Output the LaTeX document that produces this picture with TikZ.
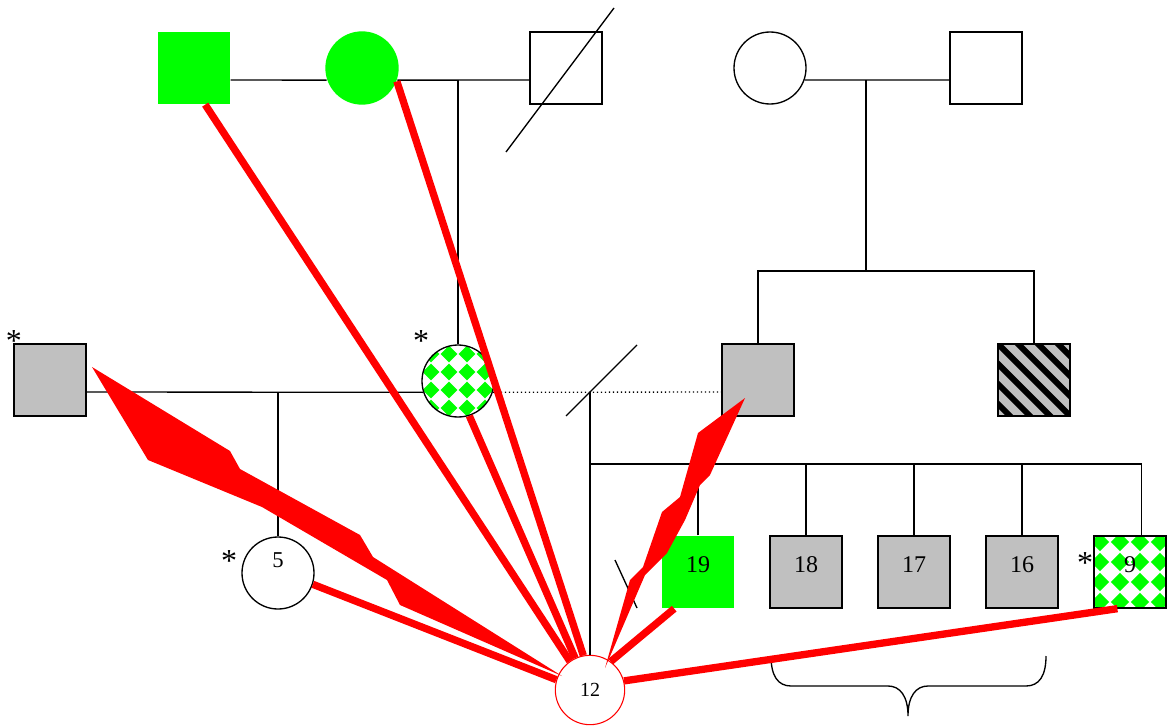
\documentclass[tikz,border=0pt]{standalone}
\usepackage{fontspec}
\setmainfont{Liberation Serif}
\usetikzlibrary{calc}
\definecolor{pedgrey}{HTML}{C0C0C0}

\begin{document}
\begin{tikzpicture}[x=0.75pt,y=-0.75pt,
    male/.style={rectangle,minimum size=54pt,inner sep=0pt,line width=1pt},
    female/.style={circle,minimum size=54pt,inner sep=0pt,line width=1pt},
    num/.style={font=\fontsize{18}{20}\selectfont,text height=6pt,text depth=6pt},
    asterisk/.style={font=\fontsize{24}{26}\selectfont,inner sep=0pt,anchor=base},
    kin/.style={line width=1pt},
    link/.style={red,line width=5.5pt},
    diamonds/.style={path picture={
      \foreach \i in {-2,...,1}{
        \foreach \j in {-2,...,1}{
          \fill[green] ($(path picture bounding box.center)+(\i*#1+#1/2,\j*#1+#1/2)$)
            +(-0.46*#1,0) -- +(0,-0.46*#1) -- +(0.46*#1,0) -- +(0,0.46*#1) -- cycle;
        }
      }
    }},
    hatched/.style={path picture={
      \foreach \k in {-5,...,5}
        \draw[line width=4.5pt] ($(path picture bounding box.center)+(\k*20-60,-60)$) -- ++(120,120);
    }}
  ]
  \useasboundingbox (0,0) rectangle (1171,728);

  % first generation
  \node[male,fill=green] (greenM) at (194,68) {};
  \node[female,fill=green,minimum size=55pt] (greenF) at (362,68) {};
  \node[male,draw] (deadM) at (566,68) {};
  \node[female,draw] (topF) at (770,68) {};
  \node[male,draw] (topM) at (986,68) {};

  % second generation
  \node[male,draw,fill=pedgrey] (leftM) at (50,380) {};
  \node[female,draw,diamonds=18] (checkF) at (458,381) {};
  \node[male,draw,fill=pedgrey] (greyM) at (758,380) {};
  \node[male,draw,fill=pedgrey,hatched] (hatchM) at (1034,380) {};

  % third generation
  \node[female,draw,font=\fontsize{17}{19}\selectfont,text height=1pt,text depth=10pt] (n5) at (278,573) {5};
  \node[male,fill=green,num] (n19) at (698,572) {19};
  \foreach \n/\x in {18/806,17/914,16/1022}
    \node[male,draw,fill=pedgrey,num] (n\n) at (\x,572) {\n};
  \node[male,draw,diamonds=20,num] (n9) at (1130,572) {9};
  \node[female,draw=red,line width=0.8pt,minimum size=52pt,font=\fontsize{15}{17}\selectfont] (n12) at (590,690) {12};

  % asterisks
  \node[asterisk] (astL) at (14,351) {*};
  \node[asterisk] (astC) at (421,351) {*};
  \node[asterisk] (ast5) at (229,571) {*};
  \node[asterisk] (ast9) at (1085,573) {*};

  % marriage and sibship lines
  \coordinate (jL) at (458,80);
  \coordinate (jR) at (866,80);
  \coordinate (sibR) at (866,271);
  \coordinate (jM) at (278,392);
  \coordinate (jC) at (590,392);
  \coordinate (sibB) at (590,464);

  \draw[kin] (greenM.east |- jL) -- (greenF.199);
  \draw[kin] (greenF.-19) -- (deadM.west |- jL);
  \draw[kin] (jL) -- (checkF.north);
  \draw[kin] ($(deadM)+(-60,84)$) -- ($(deadM)+(48,-60)$);
  \draw[kin] (topF.-19) -- (topM.west |- jR);
  \draw[kin] (jR) -- (sibR);
  \draw[kin] (greyM.north) -- (greyM.north |- sibR) -- (hatchM.north |- sibR) -- (hatchM.north);
  \draw[kin] (leftM.east |- jM) -- (checkF.198);
  \draw[kin] (jM) -- (n5.north);
  \draw[kin,dotted] (checkF.-18) -- (greyM.west |- jM);
  \draw[kin] ($(jC)+(-24,24)$) -- ($(jC)+(47,-47)$);
  \draw[kin] (jC) -- (n12.north);
  \draw[kin] (sibB) -| ($(n9.north east)+(-25,0)$);
  \foreach \n in {n19,n18,n17,n16}
    \draw[kin] (\n.north) -- (\n.north |- sibB);
  \draw[kin] ($(n19)+(-83,-12)$) -- ($(n19)+(-61,36)$);

  % brace under the sibs
  \draw[kin] (771,656) .. controls (771,676) and (778,686) .. (791,686) -- (888,686)
    .. controls (900,686) and (908,696) .. (908,716)
    .. controls (908,696) and (916,686) .. (928,686) -- (1026,686)
    .. controls (1039,686) and (1046,676) .. (1046,656);

  % red links to 12
  \fill[red] (92,367) -- (230,451) -- (240,469) -- (360,535) -- (373,557) -- (562,676)
    -- (400,605) -- (387,580) -- (262,507) -- (148,460) -- cycle;
  \fill[red] (745,398) -- (710,475) -- (700,485) -- (685,520) -- (667,553) -- (645,575)
    -- (605,668) -- (630,580) -- (643,567) -- (662,512) -- (680,497) -- (698,433) -- cycle;
  \draw[link] (greenM.-73) -- (n12.125);
  \draw[link] (greenF.-21) -- (n12.101);
  \draw[link] (checkF.-72) -- (n12.115);
  \draw[link] (n5.-18) -- (n12.163);
  \draw[link] (n19.-123) -- (n12.54);
  \draw[link] (n9.-109) -- (n12.15);
\end{tikzpicture}
\end{document}
